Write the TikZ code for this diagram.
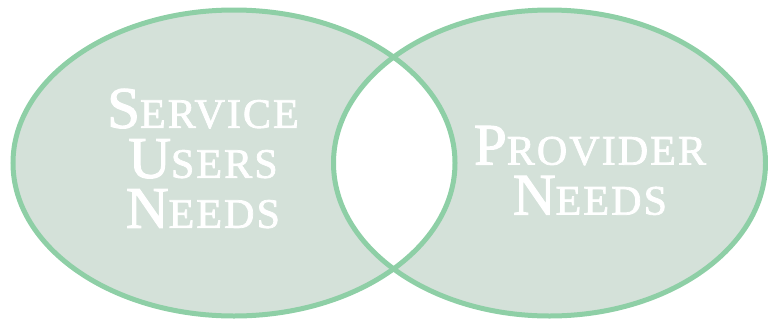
\documentclass[tikz,border=0pt]{standalone}
\usepackage{fontspec}
\setmainfont{Liberation Serif}
\newfontfamily\labelfont{Liberation Serif}[FakeBold=1.8]
\newfontfamily\labelscfont{Liberation Serif}[FakeBold=1.8, LetterSpace=5]
\definecolor{ringgreen}{HTML}{8ECFA6}
\definecolor{ringfill}{HTML}{D4E1D9}
\newcommand\fsc[2]{#1{\labelscfont\fontsize{42}{50}\selectfont #2}}
\tikzset{
  ring/.style={draw=ringgreen, line width=5pt},
  label/.style={text=white, align=center, font=\labelfont\fontsize{59}{50}\selectfont, inner sep=0pt}
}
\begin{document}
\begin{tikzpicture}[x=1pt,y=-1pt]
\useasboundingbox (0,0) rectangle (768,322);
\fill[ringfill, even odd rule] (234,163) ellipse [x radius=221, y radius=153]
                               (549.5,163) ellipse [x radius=216, y radius=153];
\draw[ring] (234,163) ellipse [x radius=221, y radius=153];
\draw[ring] (549.5,163) ellipse [x radius=216, y radius=153];
\node[label] (users) at (203,158.5) {\fsc{S}{ERVICE}\\\fsc{U}{SERS}\\\fsc{N}{EEDS}};
\node[label] (provider) at (590,170.5) {\fsc{P}{ROVIDER}\\\fsc{N}{EEDS}};
\end{tikzpicture}
\end{document}
